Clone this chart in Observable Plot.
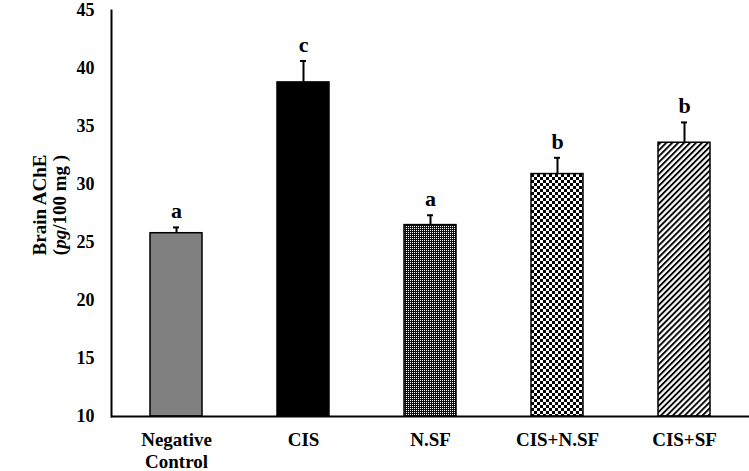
<!DOCTYPE html>
<html>
<head>
<meta charset="utf-8">
<script src="https://cdn.jsdelivr.net/npm/d3@7"></script>
<script src="https://cdn.jsdelivr.net/npm/@observablehq/plot@0.6"></script>
<style>
  html, body { margin: 0; padding: 0; background: #fff; }
  #chart { width: 749px; height: 471px; }
</style>
</head>
<body>
<div id="chart"></div>
<script>
// ---- data ----
const categories = ["Negative Control", "CIS", "N.SF", "CIS+N.SF", "CIS+SF"];
const tickLabels = ["Negative\nControl", "CIS", "N.SF", "CIS+N.SF", "CIS+SF"];
const means = [25.8, 38.8, 26.5, 30.9, 33.6];
const errors = [0.5, 1.85, 0.85, 1.4, 1.75];
const letters = ["a", "c", "a", "b", "b"];
const yTicks = [10, 15, 20, 25, 30, 35, 40, 45];

// fills (styles) per category
const fills = ["#808080", "#000000", "url(#pDots)", "url(#pChecker)", "url(#pDiag)"];

const rows = categories.map((c, i) => ({cat: c, mean: means[i], err: errors[i], top: means[i] + errors[i], letter: letters[i]}));

const font = "'Liberation Serif', 'Times New Roman', serif";

const plot = Plot.plot({
  width: 749,
  height: 471,
  marginLeft: 111,
  marginRight: 0,
  marginTop: 10,
  marginBottom: 55,
  style: {fontFamily: font, fontWeight: "bold", fontSize: "18px", color: "#000", background: "#fff"},
  x: {domain: categories, paddingInner: 0.59, paddingOuter: 0.3, label: null},
  y: {domain: [10, 45], label: null},
  color: {domain: categories, range: fills},
  marks: [
    Plot.barY(rows, {x: "cat", y1: 10, y2: "mean", fill: "cat", stroke: "#000", strokeWidth: 1.5}),
    Plot.ruleX(rows, {x: "cat", y1: "mean", y2: "top", stroke: "#000", strokeWidth: 2}),
    Plot.tickY(rows, {x: "cat", y: "top", stroke: "#000", strokeWidth: 2, insetLeft: 23, insetRight: 23}),
    Plot.text(rows, {x: "cat", y: "top", text: "letter", dy: -9, lineAnchor: "bottom", fontSize: 22, fontWeight: "bold", fill: "#000"}),
    Plot.axisY({ticks: yTicks, tickSize: 0, tickPadding: 17, fontSize: 18, fontWeight: "bold", label: null}),
    Plot.axisX({tickSize: 0, tickPadding: 14, fontSize: 19, fontWeight: "bold", lineHeight: 1.15, label: null,
      tickFormat: d => tickLabels[categories.indexOf(d)]}),
    Plot.ruleY([10], {stroke: "#000", strokeWidth: 2}),
    Plot.frame({anchor: "left", stroke: "#000", strokeWidth: 2})
  ]
});

document.getElementById("chart").appendChild(plot);

// pattern definitions
const svg = d3.select(plot);
svg.insert("defs", ":first-child").html(`
  <pattern id="pDots" patternUnits="userSpaceOnUse" width="2" height="2">
    <rect width="2" height="2" fill="#111"/>
    <rect width="1" height="1" fill="#fff"/>
  </pattern>
  <pattern id="pChecker" patternUnits="userSpaceOnUse" width="6" height="6">
    <rect width="6" height="6" fill="#000"/>
    <rect x="0" y="0" width="3" height="3" fill="#fff"/>
    <rect x="3" y="3" width="3" height="3" fill="#fff"/>
  </pattern>
  <pattern id="pDiag" patternUnits="userSpaceOnUse" width="4.2" height="4.2" patternTransform="rotate(45)">
    <rect width="4.2" height="4.2" fill="#fff"/>
    <rect x="0" y="0" width="1.9" height="4.2" fill="#000"/>
  </pattern>
`);

// y-axis title (two rotated lines, "pg" italic)
const title = svg.append("g")
  .attr("font-family", font)
  .attr("font-weight", "bold")
  .attr("font-size", 19)
  .attr("text-anchor", "middle")
  .attr("fill", "#000");
title.append("text")
  .attr("transform", "translate(46,205) rotate(-90)")
  .text("Brain AChE");
const t2 = title.append("text")
  .attr("transform", "translate(66,205) rotate(-90)");
t2.append("tspan").text("(");
t2.append("tspan").attr("font-style", "italic").text("pg");
t2.append("tspan").text("/100 mg )");
</script>
</body>
</html>
